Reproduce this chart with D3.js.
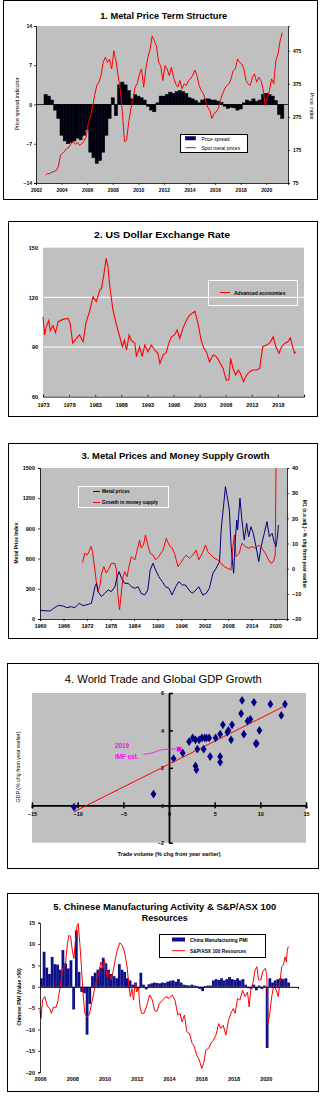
<!DOCTYPE html>
<html>
<head>
<meta charset="utf-8">
<script src="https://cdn.jsdelivr.net/npm/d3@7"></script>
<style>
  body { margin: 0; background: #fff; }
  svg { display: block; }
</style>
</head>
<body>
<div id="chart"></div>
<script>
// ---------- Data ----------
// 1. Metal price term structure (quarterly spread from 2002.75, bi-monthly spot index from 2002.75)
const spreadStart = 2002.75;
const spreadValues = [1.8,1.5,0.8,-1.0,-2.5,-5.5,-6.5,-7.0,-6.8,-6.5,
  -6.0,-6.3,-5.5,-4.5,-8.5,-9.5,-10.5,-10.0,-8.5,-5.5,
  -2.5,1.2,-2.0,3.5,4.0,3.5,2.5,1.0,1.8,1.5,
  1.2,0.8,-0.3,-1.0,-1.3,0.3,1.5,1.5,1.8,2.2,
  2.0,2.3,2.5,2.3,2.0,1.2,1.0,0.7,0.3,0.8,
  1.0,1.0,0.8,0.8,0.6,0.4,-0.3,-0.7,-0.5,-0.6,
  -1.0,-0.8,0.3,0.8,0.6,1.0,0.6,0.8,1.8,2.0,
  1.8,1.5,0.7,-1.8,-2.5];
const spotStart = 2002.75;
const spotValues = [99,104,
  103,108,110,113,125,160,
  165,172,180,183,195,200,
  192,198,188,195,200,215,
  255,275,305,340,370,380,
  400,440,455,440,450,420,
  475,445,400,360,290,200,
  205,260,300,330,365,375,
  405,420,365,420,455,480,
  520,505,490,440,430,385,
  430,420,400,425,395,375,
  365,385,360,375,370,385,
  390,400,417,400,370,355,
  345,325,305,295,270,285,
  290,300,325,345,360,370,
  375,390,415,420,450,440,
  435,420,385,375,370,395,
  405,380,395,385,360,310,
  330,355,390,375,445,465,
  505,530];
const p1YearTicks = [2002,2004,2006,2008,2010,2012,2014,2016,2018,2020];

// 2. US dollar exchange rate
const usdYears = [1973.0,1973.3,1973.6,1974.1,1974.4,1974.9,1975.4,1975.9,1976.8,1977.8,
  1978.2,1978.7,1979.4,1980.0,1980.7,1981.2,1981.9,1982.6,1983.2,1983.9,
  1984.2,1984.6,1985.1,1985.45,1985.8,1986.4,1987.0,1987.7,1988.2,1988.6,
  1989.0,1989.5,1989.9,1990.6,1990.9,1991.5,1992.0,1992.5,1993.1,1993.75,
  1994.4,1995.0,1995.4,1996.0,1996.6,1997.1,1997.6,1998.2,1998.7,1999.2,
  1999.8,2000.5,2001.1,2002.1,2002.7,2003.3,2003.8,2004.3,2004.9,2005.6,
  2006.2,2006.8,2007.5,2008.1,2008.6,2008.95,2009.4,2009.9,2010.4,2010.8,
  2011.4,2012.0,2012.6,2013.2,2013.9,2014.5,2015.1,2015.8,2016.4,2017.1,
  2017.6,2018.2,2018.7,2019.3,2019.9,2020.4,2020.8,2021.2,2021.4];
const usdValues = [108.3,97.3,102,106,100,103,98.7,105.3,106.7,107.3,
  104.3,92.2,95.2,97.3,93.2,104.3,111.3,120.4,117.4,124.4,
  125.4,132.5,143.6,138.5,126.4,112.4,104.3,96.2,90.2,94.2,
  88.2,97.3,94.2,92.2,84.2,90.2,84.2,91.2,87.2,91.2,
  88.2,86.2,80.1,85.2,86.6,92.2,96.2,97.3,100.3,95.2,
  101.3,106.3,109.3,111.7,104.3,94.2,89.2,87.2,81.1,85.2,
  84.2,81.1,77.1,70.1,70.1,83.2,77.1,73.1,76.1,74.1,
  69.1,73.1,75.1,76.1,76.1,77.1,90.2,91.2,92.2,96.2,
  90.2,86.2,90.2,92.2,93.2,95.6,90.2,86.2,87.2];
const usdYearTicks = [1973,1978,1983,1988,1993,1998,2003,2008,2013,2018,2023];

// 3. Metal prices and money supply growth
const metalYears = [1960.0,1962.5,1963.4,1964.7,1965.9,1966.8,1968.0,1968.9,1970.0,1971.0,
  1972.3,1973.1,1973.6,1974.0,1974.4,1974.8,1975.7,1976.5,1977.4,1978.2,
  1979.1,1979.7,1980.2,1980.8,1981.6,1982.5,1983.3,1984.2,1985.0,1985.8,
  1986.7,1987.5,1988.1,1988.8,1989.5,1990.3,1991.2,1992.0,1992.9,1993.7,
  1994.6,1995.4,1996.3,1997.1,1998.0,1998.8,1999.8,2000.5,2001.5,2002.4,
  2003.2,2004.1,2004.9,2005.8,2006.2,2006.8,2007.3,2007.9,2008.3,2008.7,
  2009.2,2009.4,2009.8,2010.2,2010.4,2011.0,2011.5,2012.1,2012.7,2013.2,
  2013.8,2014.4,2015.1,2015.8,2016.4,2017.2,2017.9,2018.5,2019.2,2019.7,
  2020.2,2020.6,2020.8];
const metalValues = [86,79,103,136,129,113,122,113,156,132,
  146,156,238,321,354,272,222,255,288,272,
  321,421,470,404,354,354,321,305,321,255,
  238,288,487,553,487,421,371,321,305,238,
  321,371,338,338,288,255,288,321,238,255,
  305,454,503,570,884,1116,1315,1182,1083,752,
  520,454,785,983,884,1199,983,785,950,818,
  917,851,719,570,719,851,967,818,851,768,
  719,834,934];
const m1Years = [1970.85,1971.4,1972.0,1972.5,1973.0,1973.4,1974.0,1974.4,1974.8,1975.3,
  1975.7,1976.3,1976.9,1977.6,1978.2,1979.1,1979.5,1979.9,1980.3,1980.8,
  1981.2,1981.6,1982.2,1982.7,1983.3,1984.2,1984.7,1985.4,1985.8,1986.4,
  1986.9,1987.5,1988.1,1988.8,1989.5,1990.3,1991.4,1992.2,1992.9,1993.7,
  1994.3,1995.2,1995.8,1996.6,1997.3,1998.1,1999.0,1999.8,2000.5,2001.4,
  2002.2,2002.8,2003.6,2004.5,2005.3,2006.2,2007.0,2007.9,2008.7,2009.2,
  2009.6,2010.0,2010.8,2011.5,2012.4,2013.2,2014.1,2014.9,2015.8,2016.6,
  2017.5,2018.3,2018.9,2019.5,2020.0,2020.2];
const m1Values = [2.4,6.1,5.4,6.8,8.8,6.8,-0.5,-5.8,-9.1,-6.5,
  -1.8,0.8,-1.8,0.1,2.1,2.1,-0.5,-11.1,-16.4,-8.5,
  -3.2,-1.2,-3.2,0.8,4.8,3.5,6.8,11.4,8.1,9.4,
  13.4,9.4,6.1,5.4,3.5,4.8,7.4,12.1,9.4,8.1,
  6.1,0.8,2.1,4.1,5.4,4.1,5.4,7.4,3.5,6.1,
  9.4,6.8,5.4,4.1,3.5,2.1,0.8,0.1,-0.5,8.8,
  13.4,4.8,6.1,10.1,8.8,8.1,8.8,8.1,9.4,8.1,
  6.1,3.5,2.1,2.8,5.4,40];
const p3YearTicks = [1960,1966,1972,1978,1984,1990,1996,2002,2008,2014,2020];

// 4. World trade vs global GDP growth (% chg from year earlier)
const tradeGrowth = [-10.4,-1.7,0.5,1.5,2.2,2.6,2.9,3.1,2.9,3.0,
  3.3,3.6,3.8,3.9,4.1,4.4,4.5,5.1,5.6,5.6,
  5.6,5.9,6.4,6.5,6.8,6.9,7.9,8.0,8.2,8.6,
  8.9,9.3,9.5,9.6,9.9,11.1,12.3,12.7];
const gdpGrowth = [-0.1,0.6,2.5,2.8,3.4,3.6,3.5,3.0,2.1,1.9,
  3.5,3.6,3.0,3.6,3.6,3.6,2.6,3.6,2.6,2.3,
  3.8,4.3,3.9,4.0,3.5,4.3,4.9,5.6,3.8,4.5,
  4.6,5.5,3.3,3.3,4.0,5.4,4.8,5.4];
const imfTrade = 1.1, imfGdp = 3.0;
const trendIntercept = 2.2, trendSlope = 0.245;
const trendRange = [-10.4, 12.8];

// 5. Chinese PMI (bi-monthly from 2006) and S&P/ASX 100 Resources
const pmiStart = 2006.0;
const pmiValues = [2,8.2,4.5,3,7,5.3,
  5.2,4,8.6,5.5,4.3,6.2,
  -5.3,13.2,3.5,-1.2,-1.5,-11.2,
  -4,2.5,3.3,4,4.5,6.8,
  5.5,4,3,2.5,2,5.3,
  4,3.5,2,1.5,0.5,1,
  -0.5,3.3,0.5,-0.6,0.6,0.8,
  1.0,0.9,0.8,1.0,0.9,1.2,
  1.4,1.5,1.2,1.8,1.0,0.5,
  0.4,0.3,0.5,0.3,0.2,-0.5,
  -1.0,0.2,0.3,0.3,1.5,1.8,
  1.6,2.0,1.5,1.8,2.3,1.8,
  1.6,2.0,1.5,1.8,0.5,-0.3,
  -0.5,0.5,-0.8,0.3,-0.5,0.3,
  -14.3,2.0,1.0,1.5,1.8,2.0,
  1.8,2.0,1.0];
const asxYears = [2006.0,2006.06,2006.16,2006.3,2006.45,2006.6,2006.7,2006.85,2007.0,2007.1,
  2007.25,2007.4,2007.57,2007.7,2007.8,2007.9,2008.0,2008.1,2008.2,2008.3,
  2008.37,2008.47,2008.57,2008.67,2008.78,2008.9,2009.05,2009.2,2009.37,2009.5,
  2009.65,2009.78,2009.9,2010.0,2010.16,2010.3,2010.4,2010.55,2010.7,2010.8,
  2010.95,2011.1,2011.24,2011.4,2011.5,2011.6,2011.7,2011.8,2011.9,2012.0,
  2012.1,2012.2,2012.3,2012.45,2012.6,2012.8,2012.97,2013.1,2013.25,2013.4,
  2013.6,2013.8,2014.0,2014.2,2014.37,2014.55,2014.69,2014.81,2014.96,2015.1,
  2015.27,2015.43,2015.57,2015.72,2015.88,2016.03,2016.15,2016.29,2016.46,2016.6,
  2016.75,2016.91,2017.08,2017.22,2017.36,2017.53,2017.69,2017.84,2017.98,2018.1,
  2018.25,2018.4,2018.56,2018.72,2018.87,2018.97,2019.07,2019.22,2019.34,2019.45,
  2019.55,2019.7,2019.8,2019.96,2020.06,2020.14,2020.25,2020.37,2020.5,2020.66,
  2020.78,2020.89,2020.99,2021.09,2021.2,2021.28,2021.34,2021.4];
const asxValues = [-5.5,-7.4,-3.1,-2.3,-4.5,-5.1,-6.2,-4.7,-4.8,-3.5,
  0,3.9,5.1,10.1,12.1,11.7,8.6,6.6,10.9,14.4,
  14.8,10.1,4.7,-1.6,-6.2,-7.0,-6.6,-3.9,-0.8,1.6,
  3.5,5.8,4.3,6.2,2.3,3.5,1.6,3.9,7.0,8.6,
  10.3,9.7,8.2,4.7,0.8,-2.3,-0.4,-3.1,0.8,-1.2,
  0,-4.7,-6.2,-6.2,-4.7,-1.9,-3.1,-5.5,-5.8,-3.9,
  -3.1,-2.3,-2.7,-1.9,-3.1,-6.6,-6.2,-8.2,-6.6,-10.5,
  -10.9,-13.2,-14.0,-16.0,-17.1,-19.1,-17.9,-14.8,-14.4,-13.2,
  -12.5,-11.3,-8.6,-9.7,-9.0,-11.3,-7.8,-6.2,-5.1,-6.2,
  -2.7,-3.1,-0.8,-2.3,-1.2,-4.7,-0.8,1.2,3.9,4.7,
  1.6,1.6,3.5,4.3,3.1,-8.6,-6.2,-2.3,0.4,-0.8,
  -2.3,1.6,4.7,5.1,7.0,5.8,8.6,9.4];
const p5YearTicks = [2006,2008,2010,2012,2014,2016,2018,2020];

// ---------- Helpers ----------
const FONT = "'Liberation Sans', Arial, Helvetica, sans-serif";
const GREY = "#c0c0c0", NAVY = "#000080", RED = "#ff0000";

const svg = d3.select("#chart").append("svg")
  .attr("width", 322).attr("height", 1100)
  .style("font-family", FONT);

function frame(x0, y0, x1, y1) {
  svg.append("rect").attr("x", x0 + 0.5).attr("y", y0 + 0.5)
    .attr("width", x1 - x0).attr("height", y1 - y0)
    .attr("fill", "#fff").attr("stroke", "#000").attr("stroke-width", 1);
}

function title(text, cx, y, len, size, weight) {
  svg.append("text").attr("x", cx).attr("y", y).attr("text-anchor", "middle")
    .attr("font-size", size).attr("font-weight", weight || "bold").attr("fill", "#000")
    .attr("textLength", len).attr("lengthAdjust", "spacingAndGlyphs")
    .text(text);
}

function label(x, y, text, size, opts) {
  opts = opts || {};
  const t = svg.append("text").attr("x", x).attr("y", y)
    .attr("font-size", size).attr("font-weight", opts.weight || "bold")
    .attr("fill", opts.fill || "#000").attr("text-anchor", opts.anchor || "start")
    .text(text);
  if (opts.rotate) t.attr("transform", `rotate(${opts.rotate},${x},${y})`);
  return t;
}

function fmtAxis(g, size) {
  g.attr("font-family", null).attr("font-size", null);
  g.selectAll("text").attr("font-size", size).attr("font-weight", "bold").attr("fill", "#000");
  g.selectAll(".domain").attr("stroke", "#000").attr("stroke-width", 0.8);
  g.selectAll(".tick line").attr("stroke", "#000").attr("stroke-width", 0.7);
  return g;
}

const yearFmt = d3.format("d");

// ---------- 1. Metal Price Term Structure ----------
frame(3, 0, 317, 199);
title("1. Metal Price Term Structure", 163.7, 19.3, 127, 9.6);
{
  const x = d3.scaleLinear().domain([2002, 2021.7]).range([36, 288]);
  const yS = d3.scaleLinear().domain([-14, 14]).range([183, 26]);
  const yP = d3.scaleLinear().domain([75, 550]).range([183, 26]);

  svg.append("rect").attr("x", 36).attr("y", 26).attr("width", 252).attr("height", 157).attr("fill", GREY);

  const q = 0.25;
  svg.append("g").selectAll("rect").data(spreadValues).join("rect")
    .attr("x", (d, i) => x(spreadStart + i * q - q / 2))
    .attr("width", x(q) - x(0))
    .attr("y", d => yS(Math.max(0, d)))
    .attr("height", d => Math.abs(yS(d) - yS(0)))
    .attr("fill", "#000014").attr("stroke", "#000").attr("stroke-width", 0.5);

  svg.append("line").attr("x1", 36).attr("x2", 288).attr("y1", yS(0)).attr("y2", yS(0))
    .attr("stroke", "#000").attr("stroke-width", 0.8);

  const line = d3.line().x((d, i) => x(spotStart + i / 6)).y(d => yP(d));
  svg.append("path").datum(spotValues).attr("d", line)
    .attr("fill", "none").attr("stroke", RED).attr("stroke-width", 1);

  fmtAxis(svg.append("g").attr("transform", "translate(0,183)")
    .call(d3.axisBottom(x).tickValues(p1YearTicks).tickFormat(yearFmt).tickSize(2).tickPadding(3)), 5);
  fmtAxis(svg.append("g").attr("transform", "translate(36,0)")
    .call(d3.axisLeft(yS).tickValues([-14, -7, 0, 7, 14]).tickSize(2).tickPadding(2)), 5);
  fmtAxis(svg.append("g").attr("transform", "translate(288,0)")
    .call(d3.axisRight(yP).tickValues([75, 175, 275, 375, 475]).tickSize(2).tickPadding(3)), 5);

  label(19, 104, "Price spread indicator", 5.5, { anchor: "middle", rotate: -90, weight: "normal" });
  label(310, 106, "Price index", 5.5, { anchor: "middle", rotate: 90, weight: "normal" });

  // legend
  svg.append("rect").attr("x", 180.5).attr("y", 134.5).attr("width", 67).attr("height", 18)
    .attr("fill", "#fff").attr("stroke", "#000").attr("stroke-width", 1);
  svg.append("rect").attr("x", 185.5).attr("y", 136.5).attr("width", 10).attr("height", 3.5)
    .attr("fill", NAVY).attr("stroke", "#000").attr("stroke-width", 0.5);
  label(201.5, 140.5, "Price spread", 5, { weight: "normal" });
  svg.append("line").attr("x1", 185.5).attr("x2", 196).attr("y1", 147.7).attr("y2", 147.7)
    .attr("stroke", RED).attr("stroke-width", 1);
  label(201.5, 149.5, "Spot metal prices", 5, { weight: "normal" });
}

// ---------- 2. US Dollar Exchange Rate ----------
frame(8, 221, 317, 416);
title("2.  US Dollar Exchange Rate", 162, 237.7, 136, 9.6);
{
  const x = d3.scaleLinear().domain([1973, 2023]).range([43, 304]);
  const y = d3.scaleLinear().domain([60, 150]).range([396.7, 247.7]);

  svg.append("rect").attr("x", 43).attr("y", 247.7).attr("width", 261).attr("height", 149).attr("fill", GREY);
  svg.append("g").selectAll("line").data([90, 120]).join("line")
    .attr("x1", 43).attr("x2", 304).attr("y1", d => y(d)).attr("y2", d => y(d))
    .attr("stroke", "#fff").attr("stroke-width", 1);

  const line = d3.line().x((d, i) => x(usdYears[i])).y(d => y(d));
  svg.append("path").datum(usdValues).attr("d", line)
    .attr("fill", "none").attr("stroke", RED).attr("stroke-width", 1.1);

  fmtAxis(svg.append("g").attr("transform", "translate(0,396.7)")
    .call(d3.axisBottom(x).tickValues(usdYearTicks).tickFormat(d => d < 2020 ? yearFmt(d) : "")
      .tickSize(-2).tickPadding(6)), 5.5);
  const gl = fmtAxis(svg.append("g").attr("transform", "translate(43,0)")
    .call(d3.axisLeft(y).tickValues([60, 90, 120, 150]).tickSize(0).tickPadding(5)), 5.5);
  gl.select(".domain").remove();

  // legend
  svg.append("rect").attr("x", 208.5).attr("y", 280.5).attr("width", 89).attr("height", 25)
    .attr("fill", "none").attr("stroke", "#fff").attr("stroke-width", 1);
  svg.append("line").attr("x1", 220).attr("x2", 230).attr("y1", 292.5).attr("y2", 292.5)
    .attr("stroke", RED).attr("stroke-width", 1);
  label(234, 294.5, "Advanced economies", 5);
}

// ---------- 3. Metal Prices and Money Supply Growth ----------
frame(8, 443, 317, 638);
title("3.  Metal Prices and Money Supply Growth", 175.5, 459.3, 188, 9.6);
{
  const x = d3.scaleLinear().domain([1960, 2023]).range([40, 287]);
  const yL = d3.scaleLinear().domain([0, 1500]).range([619, 468]);
  const yR = d3.scaleLinear().domain([-20, 40]).range([619, 468]);

  svg.append("rect").attr("x", 40).attr("y", 468).attr("width", 247).attr("height", 151).attr("fill", GREY);

  const redLine = d3.line().x((d, i) => x(m1Years[i])).y(d => yR(d));
  svg.append("path").datum(m1Values).attr("d", redLine)
    .attr("fill", "none").attr("stroke", RED).attr("stroke-width", 1);
  const blueLine = d3.line().x((d, i) => x(metalYears[i])).y(d => yL(d));
  svg.append("path").datum(metalValues).attr("d", blueLine)
    .attr("fill", "none").attr("stroke", NAVY).attr("stroke-width", 1);

  fmtAxis(svg.append("g").attr("transform", "translate(0,619)")
    .call(d3.axisBottom(x).tickValues(p3YearTicks).tickFormat(yearFmt).tickSize(2).tickPadding(3)), 5.5);
  fmtAxis(svg.append("g").attr("transform", "translate(40,0)")
    .call(d3.axisLeft(yL).tickValues(d3.range(0, 1501, 300)).tickFormat(d3.format("d")).tickSize(2).tickPadding(3)), 5.5);
  fmtAxis(svg.append("g").attr("transform", "translate(287,0)")
    .call(d3.axisRight(yR).tickValues(d3.range(-20, 41, 10)).tickSize(2).tickPadding(3)), 5.5);

  label(18, 543, "Metal Price Index", 5, { anchor: "middle", rotate: -90 });
  label(303, 544, "M1 (s.a adj.) - % chg from year earlier", 5, { anchor: "middle", rotate: 90 });

  // legend
  svg.append("rect").attr("x", 78.5).attr("y", 486.5).attr("width", 90).attr("height", 21)
    .attr("fill", "none").attr("stroke", "#fff").attr("stroke-width", 1);
  svg.append("line").attr("x1", 93).attr("x2", 100).attr("y1", 491.5).attr("y2", 491.5)
    .attr("stroke", NAVY).attr("stroke-width", 1);
  label(102, 493.3, "Metal prices", 4.8);
  svg.append("line").attr("x1", 93).attr("x2", 100).attr("y1", 502.5).attr("y2", 502.5)
    .attr("stroke", RED).attr("stroke-width", 1);
  label(102, 504.3, "Growth in money supply", 4.8);
}

// ---------- 4. World Trade and Global GDP Growth ----------
frame(7, 663, 318, 868);
title("4. World Trade and Global GDP Growth", 163.3, 683, 197, 10.5, "normal");
{
  const x = d3.scaleLinear().domain([-15, 15]).range([32, 306]);
  const y = d3.scaleLinear().domain([-2, 6]).range([842.7, 693]);

  svg.append("rect").attr("x", 32).attr("y", 693).attr("width", 274).attr("height", 149.7).attr("fill", GREY);

  // axes crossing at zero
  const gx = fmtAxis(svg.append("g").attr("transform", `translate(0,${y(0)})`)
    .call(d3.axisBottom(x).tickValues(d3.range(-15, 16, 5)).tickSize(3).tickPadding(4)), 5.5);
  gx.select(".domain").attr("stroke-width", 1.8);
  gx.selectAll(".tick line").attr("y1", -3).attr("stroke-width", 1.5);
  const gy = fmtAxis(svg.append("g").attr("transform", `translate(${x(0)},0)`)
    .call(d3.axisLeft(y).tickValues([-2, 0, 2, 4, 6]).tickSize(0).tickPadding(5)), 5.5);
  gy.select(".domain").attr("stroke-width", 1.8);
  gy.selectAll(".tick line").attr("x2", 4).attr("stroke-width", 1.5);

  // trend line
  svg.append("line")
    .attr("x1", x(trendRange[0])).attr("y1", y(trendIntercept + trendSlope * trendRange[0]))
    .attr("x2", x(trendRange[1])).attr("y2", y(trendIntercept + trendSlope * trendRange[1]))
    .attr("stroke", RED).attr("stroke-width", 1);

  svg.append("g").selectAll("path").data(tradeGrowth).join("path")
    .attr("d", d3.symbol(d3.symbolDiamond, 22))
    .attr("transform", (d, i) => `translate(${x(d)},${y(gdpGrowth[i])}) scale(1.15,1)`)
    .attr("fill", NAVY);

  // 2019 IMF estimate
  const MAG = "#ff00ff";
  svg.append("rect").attr("x", x(imfTrade) - 2.3).attr("y", y(imfGdp) - 2.3)
    .attr("width", 4.6).attr("height", 4.6).attr("fill", MAG);
  const arrow = [[-2.8, 2.72], [-1.6, 2.8], [-0.9, 3.0], [imfTrade - 0.3, imfGdp]];
  svg.append("path").datum(arrow)
    .attr("d", d3.line().x(d => x(d[0])).y(d => y(d[1])).curve(d3.curveBasis))
    .attr("fill", "none").attr("stroke", MAG).attr("stroke-width", 0.8);
  label(x(-5.9), y(3.05), "2019", 6.3, { fill: MAG });
  label(x(-5.9), y(2.45), "IMF est.", 6.3, { fill: MAG });

  label(20, 767, "GDP (% chg from year earlier)", 5.3, { anchor: "middle", rotate: -90, weight: "normal" });
  label(169, 856, "Trade volume (% chg from year earlier)", 5.6, { anchor: "middle" });
}

// ---------- 5. Chinese Manufacturing Activity & S&P/ASX 100 Resources ----------
frame(7, 893, 318, 1091);
title("5.  Chinese Manufacturing Activity & S&P/ASX 100", 164.7, 910, 223, 9.4);
title("Resources", 164.7, 921, 46, 9.4);
{
  const x = d3.scaleLinear().domain([2006, 2022]).range([40, 298]);
  const y = d3.scaleLinear().domain([-20, 15]).range([1072.3, 922.7]);

  const step = 1 / 6;
  svg.append("g").selectAll("rect").data(pmiValues).join("rect")
    .attr("x", (d, i) => x(pmiStart + i * step))
    .attr("width", x(step) - x(0) + 0.1)
    .attr("y", d => y(Math.max(0, d)))
    .attr("height", d => Math.abs(y(d) - y(0)))
    .attr("fill", "#101088");

  const line = d3.line().x((d, i) => x(asxYears[i])).y(d => y(d));
  svg.append("path").datum(asxValues).attr("d", line)
    .attr("fill", "none").attr("stroke", RED).attr("stroke-width", 1);

  // zero axis line
  const gz = fmtAxis(svg.append("g").attr("transform", `translate(0,${y(0)})`)
    .call(d3.axisBottom(x).tickValues([2022]).tickFormat("").tickSize(2)), 5.5);
  gz.select(".domain").attr("stroke-width", 1);
  // year labels at the bottom
  const gb = fmtAxis(svg.append("g").attr("transform", `translate(0,${y(-20)})`)
    .call(d3.axisBottom(x).tickValues(p5YearTicks).tickFormat(yearFmt).tickSize(0).tickPadding(5)), 5.5);
  gb.select(".domain").remove();
  fmtAxis(svg.append("g").attr("transform", "translate(40,0)")
    .call(d3.axisLeft(y).tickValues(d3.range(-20, 16, 5)).tickSize(2).tickPadding(3)), 5.5);

  label(21, 997, "Chinese PMI (Value >50)", 5, { anchor: "middle", rotate: -90 });

  // legend
  svg.append("rect").attr("x", 159.5).attr("y", 934.5).attr("width", 106).attr("height", 23)
    .attr("fill", "#fff").attr("stroke", "#000").attr("stroke-width", 1);
  svg.append("rect").attr("x", 172).attr("y", 937.5).attr("width", 13).attr("height", 4)
    .attr("fill", "#101088");
  label(190, 941.5, "China Manufacturing PMI", 4.8);
  svg.append("line").attr("x1", 172).attr("x2", 185).attr("y1", 950.7).attr("y2", 950.7)
    .attr("stroke", RED).attr("stroke-width", 1);
  label(190, 952.5, "S&P/ASX 100 Resources", 4.8);
}
</script>
</body>
</html>
